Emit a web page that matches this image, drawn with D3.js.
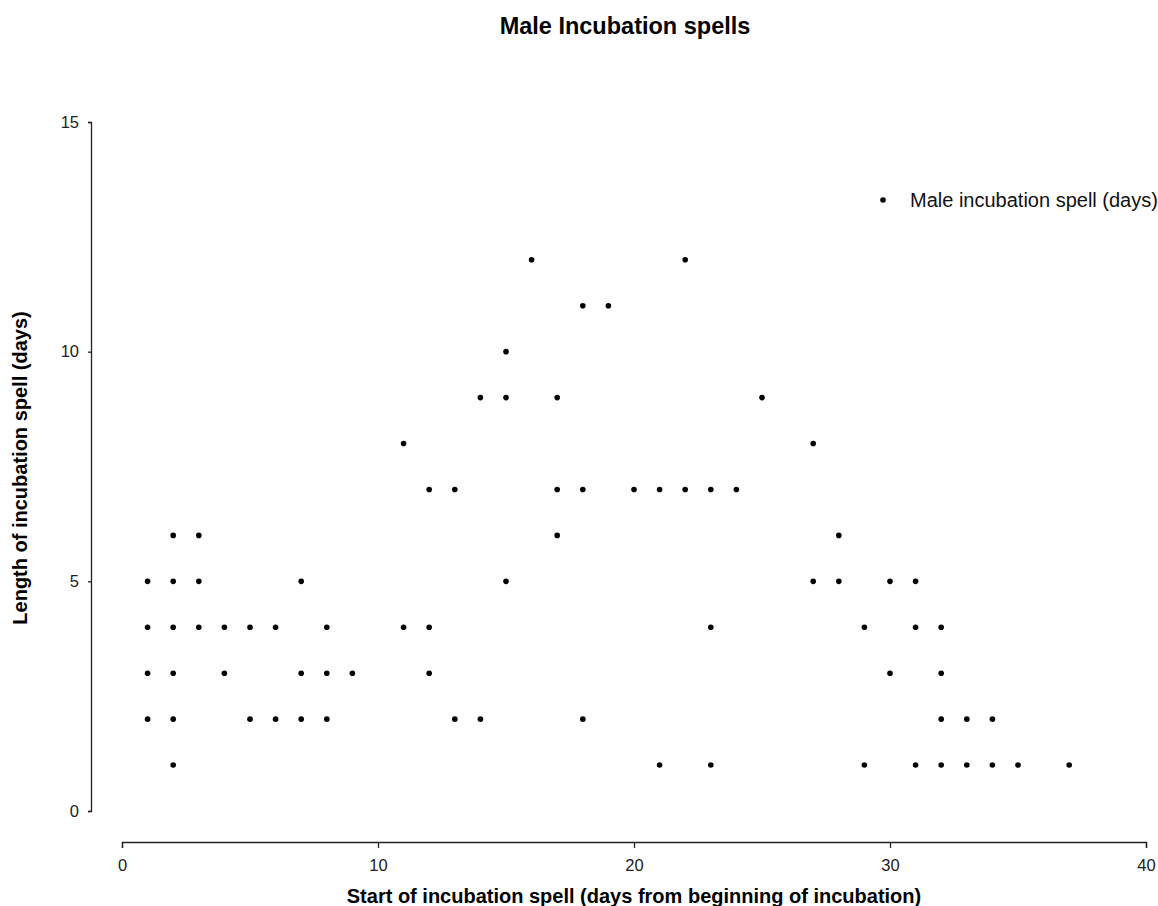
<!DOCTYPE html>
<html><head><meta charset="utf-8">
<script src="https://cdn.jsdelivr.net/npm/d3@7"></script>
<style>body{margin:0;background:#fff;} text{font-family:"Liberation Sans",Arial,sans-serif;}</style>
</head><body>
<svg id="c" width="1158" height="906"></svg>
<script>
const title = "Male Incubation spells";
const xLabel = "Start of incubation spell (days from beginning of incubation)";
const yLabel = "Length of incubation spell (days)";
const legendLabel = "Male incubation spell (days)";
const xTicks = [0, 10, 20, 30, 40];
const yTicks = [0, 5, 10, 15];
const startDay = [1,1,1,1, 2,2,2,2,2,2, 3,3,3, 4,4, 5,5, 6,6, 7,7,7, 8,8,8, 9,
  11,11, 12,12,12, 13,13, 14,14, 15,15,15, 16, 17,17,17, 18,18,18, 19, 20, 21,21, 22,22, 23,23,23, 24, 25,
  27,27, 28,28, 29,29, 30,30, 31,31,31, 32,32,32,32, 33,33, 34,34, 35, 37];
const spellLength = [5,4,3,2, 6,5,4,3,2,1, 6,5,4, 4,3, 4,2, 4,2, 5,3,2, 4,3,2, 3,
  8,4, 7,4,3, 7,2, 9,2, 10,9,5, 12, 9,7,6, 11,7,2, 11, 7, 7,1, 12,7, 7,4,1, 7, 9,
  8,5, 6,5, 4,1, 5,3, 5,4,1, 4,3,2,1, 2,1, 2,1, 1, 1];

const svg = d3.select("#c");
const x = d3.scaleLinear().domain([0, 40]).range([122, 1146]);
const y = d3.scaleLinear().domain([0, 15]).range([811, 122]);

svg.append("text").attr("x", 625).attr("y", 34).attr("text-anchor", "middle")
  .style("font-weight", "bold").style("font-size", "23.5px").text(title);

const yAxis = svg.append("g").attr("transform", "translate(91,0)")
  .call(d3.axisLeft(y).tickValues(yTicks).tickSize(3).tickPadding(9).tickFormat(d3.format("d")));
const xAxis = svg.append("g").attr("transform", "translate(0,842)")
  .call(d3.axisBottom(x).tickValues(xTicks).tickSize(6).tickPadding(11).tickFormat(d3.format("d")));
[xAxis, yAxis].forEach(g => {
  g.select(".domain").attr("stroke", "#222").attr("stroke-width", 1.3);
  g.selectAll(".tick line").attr("stroke", "#222").attr("stroke-width", 1.3);
  g.selectAll(".tick text").style("font-size", "16.5px").style("font-family", "Liberation Sans, Arial, sans-serif").attr("fill", "#222");
});

svg.append("text").attr("transform", "translate(27,468) rotate(-90)").attr("text-anchor", "middle")
  .style("font-weight", "bold").style("font-size", "20px").text(yLabel);
svg.append("text").attr("x", 634).attr("y", 903).attr("text-anchor", "middle")
  .style("font-weight", "bold").style("font-size", "20px").text(xLabel);

svg.append("g").selectAll("circle").data(startDay).join("circle")
  .attr("cx", (d) => x(d)).attr("cy", (d, i) => y(spellLength[i])).attr("r", 2.8).attr("fill", "#000");

svg.append("circle").attr("cx", 883).attr("cy", 200).attr("r", 2.8).attr("fill", "#000");
svg.append("text").attr("x", 910).attr("y", 207).style("font-size", "20px").attr("fill", "#111").text(legendLabel);
</script>
</body></html>
